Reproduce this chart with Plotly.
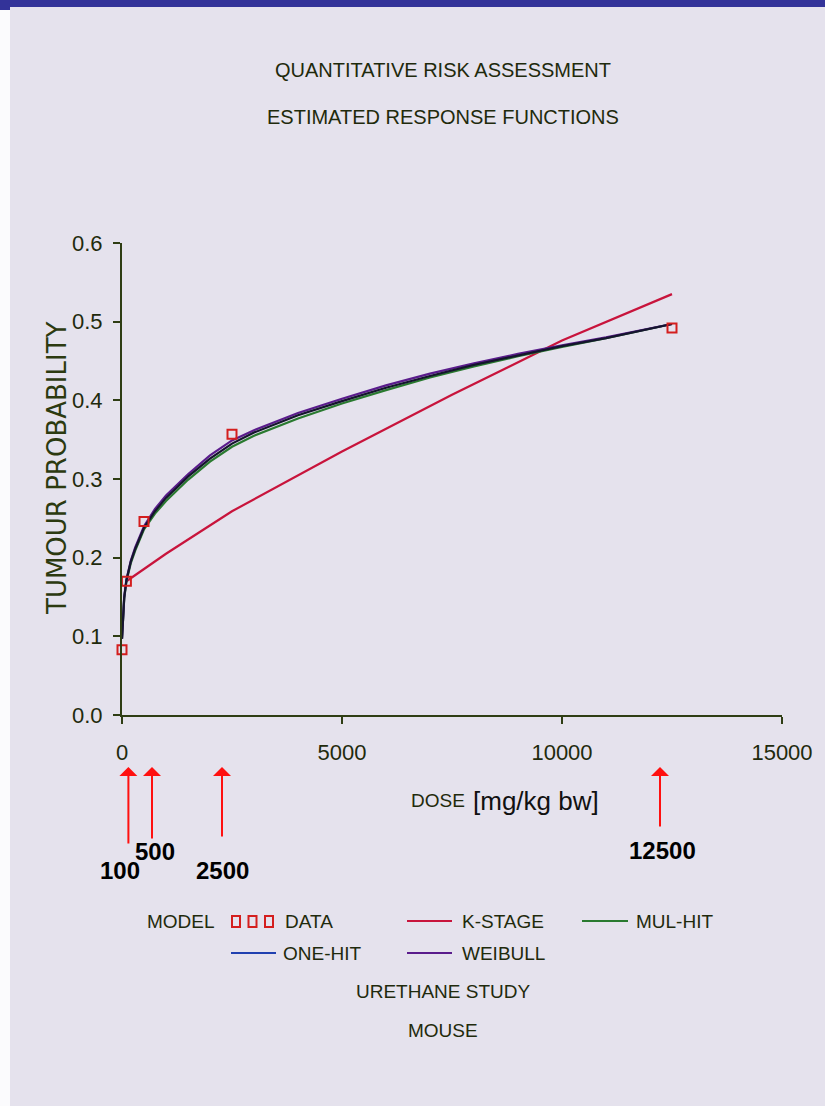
import plotly.graph_objects as go

# ---------------- data ----------------
dose_data = [0, 100, 500, 2500, 12500]
resp_data = [0.083, 0.170, 0.246, 0.357, 0.492]

dose_curve = [0, 25, 50, 100, 200, 300, 500, 750, 1000, 1500, 2000, 2500,
              3000, 4000, 5000, 6000, 7000, 8000, 9000, 10000, 11000, 12500]
mulhit = [0.097, 0.133, 0.148, 0.170, 0.193, 0.209, 0.236, 0.256, 0.272, 0.299, 0.322, 0.341,
          0.355, 0.377, 0.396, 0.413, 0.429, 0.443, 0.456, 0.468, 0.479, 0.497]
onehit = [0.097, 0.134, 0.149, 0.171, 0.195, 0.211, 0.238, 0.259, 0.276, 0.303, 0.326, 0.345,
          0.359, 0.381, 0.399, 0.416, 0.431, 0.445, 0.457, 0.469, 0.479, 0.497]
weibull = [0.097, 0.135, 0.150, 0.172, 0.196, 0.213, 0.240, 0.262, 0.279, 0.306, 0.330, 0.349,
           0.362, 0.384, 0.402, 0.419, 0.434, 0.447, 0.459, 0.470, 0.480, 0.497]

dose_k = [100, 1000, 2500, 5000, 7500, 10000, 12500]
kstage = [0.170, 0.205, 0.259, 0.335, 0.407, 0.476, 0.535]

arrow_doses = [100, 500, 2500, 12500]
arrow_labels = ["100", "500", "2500", "12500"]

x_ticks = [0, 5000, 10000, 15000]
y_ticks = [0.0, 0.1, 0.2, 0.3, 0.4, 0.5, 0.6]

# ---------------- style ----------------
W, H = 825, 1106
L, R, T, B = 122, 43, 243, 391
PW, PH = W - L - R, H - T - B
BG = "#e5e2ed"
AX = "#2f3d14"
TXT = "#1f2a0c"
SANS = "Liberation Sans, Arial, sans-serif"
RED = "#c8143c"
GREEN = "#2a7a30"
BLUE = "#2040b0"
PURPLE = "#5a1c8c"
DARK = "#15152e"


def px(x):
    return (x - L) / PW


def py(y):
    return (H - B - y) / PH


fig = go.Figure()
fig.add_trace(go.Scatter(x=dose_k, y=kstage, mode="lines", line=dict(color=RED, width=2.2), name="K-STAGE"))
fig.add_trace(go.Scatter(x=dose_curve, y=mulhit, mode="lines", line=dict(color=GREEN, width=2.2), name="MUL-HIT"))
fig.add_trace(go.Scatter(x=dose_curve, y=weibull, mode="lines", line=dict(color=PURPLE, width=2.2), name="WEIBULL"))
fig.add_trace(go.Scatter(x=dose_curve, y=onehit, mode="lines", line=dict(color=DARK, width=2.2), name="ONE-HIT"))
fig.add_trace(go.Scatter(x=dose_data, y=resp_data, mode="markers", cliponaxis=False,
                         marker=dict(symbol="square-open", size=9, color="#d41e1e", line=dict(width=2)),
                         name="DATA"))

axis_common = dict(showgrid=False, zeroline=False, showline=True, linecolor=AX, linewidth=2,
                   ticks="outside", ticklen=7, tickwidth=2, tickcolor=AX,
                   tickfont=dict(family=SANS, size=22, color=TXT))

fig.update_layout(
    width=W, height=H, autosize=False,
    margin=dict(l=L, r=R, t=T, b=B),
    paper_bgcolor=BG, plot_bgcolor=BG,
    showlegend=False,
    xaxis=dict(range=[0, 15000], tickvals=x_ticks, ticktext=[str(v) for v in x_ticks],
               ticklabelstandoff=10, **axis_common),
    yaxis=dict(range=[0, 0.6], tickvals=y_ticks, ticktext=["%.1f" % v for v in y_ticks],
               ticklabelstandoff=6, **axis_common),
)

shapes = []
ann = []

# page decorations: blue top bar and white left strip
shapes.append(dict(type="rect", xref="paper", yref="paper", x0=px(0), x1=px(W), y0=py(0), y1=py(7),
                   fillcolor="#333399", line=dict(width=0), layer="above"))
shapes.append(dict(type="rect", xref="paper", yref="paper", x0=px(0), x1=px(10), y0=py(7), y1=py(10),
                   fillcolor="#333399", line=dict(width=0), layer="above"))
shapes.append(dict(type="rect", xref="paper", yref="paper", x0=px(0), x1=px(10), y0=py(10), y1=py(H),
                   fillcolor="#fbfbfd", line=dict(width=0), layer="above"))

# titles
for text, yy in [("QUANTITATIVE RISK ASSESSMENT", 70), ("ESTIMATED RESPONSE FUNCTIONS", 117)]:
    ann.append(dict(text=text, xref="paper", yref="paper", x=px(443), y=py(yy), showarrow=False,
                    xanchor="center", yanchor="middle", font=dict(family=SANS, size=20, color=TXT)))

# y-axis title
ann.append(dict(text="TUMOUR PROBABILITY", xref="paper", yref="paper", x=px(57), y=py(468),
                textangle=-90, showarrow=False, xanchor="center", yanchor="middle",
                font=dict(family="DejaVu Sans, Verdana, sans-serif", size=26, color="#2c3a10")))

# x-axis title
ann.append(dict(text="DOSE", xref="paper", yref="paper", x=px(467), y=py(800), showarrow=False,
                xanchor="right", yanchor="middle", font=dict(family=SANS, size=19, color=TXT)))
ann.append(dict(text="[mg/kg bw]", xref="paper", yref="paper", x=px(471), y=py(801), showarrow=False,
                xanchor="left", yanchor="middle", font=dict(family=SANS, size=26, color="#111111")))

# red arrows with labels
arrow_shift = [2, 8, -10, -12]
arrow_tail = [845, 840, 838, 828]
label_pos = [(120, 870), (155, 851), (222, 870), (662, 850)]
for d, lab, xs, tail, (lx, ly) in zip(arrow_doses, arrow_labels, arrow_shift, arrow_tail, label_pos):
    ann.append(dict(text="", xref="x", yref="paper", x=d, y=py(767), xshift=xs,
                    showarrow=True, arrowhead=1, arrowsize=1.5, arrowwidth=2, arrowcolor="#ff1010",
                    ax=0, ay=tail - 767))
    ann.append(dict(text="<b>%s</b>" % lab, xref="paper", yref="paper", x=px(lx), y=py(ly),
                    showarrow=False, xanchor="center", yanchor="middle",
                    font=dict(family=SANS, size=24, color="#000000")))

# legend
LEG = dict(family=SANS, size=19, color=TXT)
ann.append(dict(text="MODEL", xref="paper", yref="paper", x=px(145), y=py(921), showarrow=False,
                xanchor="left", yanchor="middle", font=LEG))
for cx in [236, 252.5, 269]:
    shapes.append(dict(type="rect", xref="paper", yref="paper", x0=px(cx - 4), x1=px(cx + 4),
                       y0=py(927), y1=py(916), line=dict(color="#d41e1e", width=2)))
ann.append(dict(text="DATA", xref="paper", yref="paper", x=px(283), y=py(921), showarrow=False,
                xanchor="left", yanchor="middle", font=LEG))

leg_lines = [(407, 452, 921, RED, "K-STAGE", 460),
             (582, 628, 921, GREEN, "MUL-HIT", 634),
             (231, 276, 953, BLUE, "ONE-HIT", 281),
             (407, 452, 953, PURPLE, "WEIBULL", 460)]
for x0, x1, yy, col, lab, tx in leg_lines:
    shapes.append(dict(type="line", xref="paper", yref="paper", x0=px(x0), x1=px(x1), y0=py(yy), y1=py(yy),
                       line=dict(color=col, width=2)))
    ann.append(dict(text=lab, xref="paper", yref="paper", x=px(tx), y=py(yy), showarrow=False,
                    xanchor="left", yanchor="middle", font=LEG))

for text, yy in [("URETHANE STUDY", 991), ("MOUSE", 1030)]:
    ann.append(dict(text=text, xref="paper", yref="paper", x=px(443), y=py(yy), showarrow=False,
                    xanchor="center", yanchor="middle", font=LEG))

fig.update_layout(shapes=shapes, annotations=ann)

fig.write_html("out.html", config={"displayModeBar": False},
               post_script="document.body.style.margin='0';document.body.style.overflow='hidden';")
